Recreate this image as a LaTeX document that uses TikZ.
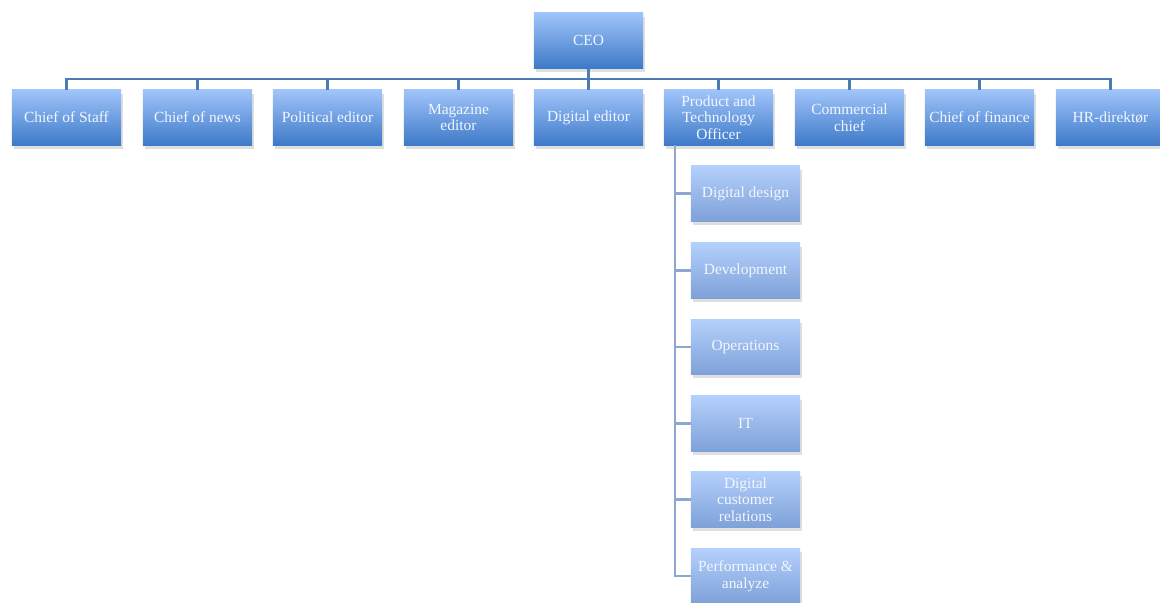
\documentclass[tikz,border=0pt]{standalone}
\usepackage{fontspec}
\setmainfont{Liberation Serif}
\usetikzlibrary{positioning,shadows}

\definecolor{boxtop}{HTML}{A0C4FA}
\definecolor{boxbottom}{HTML}{3E7AC8}
\definecolor{subtop}{HTML}{B4D0FC}
\definecolor{subbottom}{HTML}{7EA1D8}
\definecolor{linkcol}{HTML}{4E7AB6}
\definecolor{sublinkcol}{HTML}{8CA7D2}
\definecolor{textcol}{HTML}{F2F6FF}

\tikzset{
  role/.style={minimum width=2.725cm, minimum height=1.375cm, inner sep=1pt,
    top color=boxtop, bottom color=boxbottom, text=textcol, align=center,
    font=\fontsize{11}{11.8}\selectfont,
    drop shadow={shadow xshift=1.5pt, shadow yshift=-2.5pt, opacity=0.25}},
  subrole/.style={role, top color=subtop, bottom color=subbottom},
  link/.style={draw=linkcol, line width=1.6pt},
  sublink/.style={draw=sublinkcol, line width=2pt}
}

\begin{document}
\begin{tikzpicture}[x=0.025cm,y=-0.025cm]
  \useasboundingbox (0,0) rectangle (1160,603);

  \coordinate (bus) at (0,79);
  \coordinate (spine) at (675,145);

  %Draw CEO
  \node[role] (ceo) at (588.5,40.5) {CEO};

  %Draw the managers row
  \node[role] (staff)   at (66.5,117.5)  {Chief of Staff};
  \node[role] (news)    at (197.5,117.5) {Chief of news};
  \node[role] (politic) at (327.5,117.5) {Political editor};
  \node[role] (magazine)at (458.5,117.5) {Magazine\\editor};
  \node[role] (digital) at (588.5,117.5) {Digital editor};
  \node[role] (pto)     at (718.5,117.5) {Product and\\Technology\\Officer};
  \node[role] (commerce)at (849.5,117.5) {Commercial\\chief};
  \node[role] (finance) at (979.5,117.5) {Chief of finance};
  \node[role] (hr)      at (1110.5,117.5){HR-direkt\o r};

  %Draw the units below the product and technology officer
  \node[subrole] (design) at (745.5,193.5) {Digital design};
  \node[subrole] (develop)at (745.5,270.5) {Development};
  \node[subrole] (operate)at (745.5,347)   {Operations};
  \node[subrole] (it)     at (745.5,423.5) {IT};
  \node[subrole] (custom) at (745.5,499.5) {Digital\\customer\\relations};
  \node[subrole] (perform)at (745.5,576)   {Performance \&\\analyze};

  % Draw bus line between CEO and managers
  \draw[link] (ceo.south) -- (digital.north);
  \draw[link] (staff.north) -- (staff.north |- bus) -| (hr.north);
  \draw[link] (news.north) -- (news.north |- bus);
  \draw[link] (politic.north) -- (politic.north |- bus);
  \draw[link] (magazine.north) -- (magazine.north |- bus);
  \draw[link] (pto.north) -- (pto.north |- bus);
  \draw[link] (commerce.north) -- (commerce.north |- bus);
  \draw[link] (finance.north) -- (finance.north |- bus);

  % Draw spine and stubs to the units
  \draw[sublink] (spine) |- (perform.west);
  \draw[sublink] (design.west) -- (design.west -| spine);
  \draw[sublink] (develop.west) -- (develop.west -| spine);
  \draw[sublink] (operate.west) -- (operate.west -| spine);
  \draw[sublink] (it.west) -- (it.west -| spine);
  \draw[sublink] (custom.west) -- (custom.west -| spine);
\end{tikzpicture}
\end{document}
